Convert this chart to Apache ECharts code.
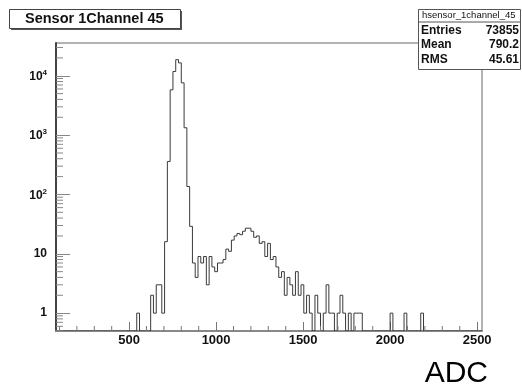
<!DOCTYPE html>
<html>
<head>
<meta charset="utf-8">
<script src="https://cdn.jsdelivr.net/npm/echarts@6/dist/echarts.min.js"></script>
<style>
html, body { margin: 0; padding: 0; background: #ffffff; }
#chart { width: 522px; height: 385px; }
</style>
</head>
<body>
<div id="chart"></div>
<script>
// Histogram binning: 16-ADC-count bins starting at 80
const binStart = 80;
const binWidth = 16;

// Counts per bin (bin i covers [80 + 16*i, 96 + 16*i)), 16 bins per row
const counts = [
  0, 0, 0, 0, 0, 0, 0, 0, 0, 0, 0, 0, 0, 0, 0, 0,
  0, 0, 0, 0, 0, 0, 0, 0, 0, 0, 0, 0, 0, 1, 0, 0,
  0, 0, 2, 1, 3, 3, 1, 16, 360, 5800, 11800, 18700, 16500, 7600, 1330, 136,
  29, 7, 4, 9, 7, 9, 3, 9, 6, 5, 7, 7, 8, 12, 11, 17,
  20, 22, 21, 24, 27, 27, 24, 19, 20, 15, 16, 9, 15, 8, 9, 6,
  4, 5, 2, 4, 3, 2, 5, 2, 3, 1, 2, 1, 0, 2, 1, 0,
  1, 3, 1, 1, 0, 1, 2, 1, 0, 1, 0, 1, 1, 1, 0, 0,
  0, 0, 0, 0, 0, 0, 0, 0, 1, 0, 0, 0, 0, 1, 0, 0,
  0, 0, 0, 1, 0, 0, 0, 0, 0, 0, 0, 0, 0, 0, 0, 0,
  0, 0, 0, 0, 0, 0, 0, 0, 0
];

// Axis ranges
const xMin = 80;
const xMax = 2528;
const yMin = 0.5;
const yMax = 35700;

// Minor tick positions
const xMinorTicks = [100, 200, 300, 400, 600, 700, 800, 900, 1100, 1200, 1300, 1400,
  1600, 1700, 1800, 1900, 2100, 2200, 2300, 2400];
const yMinorTicks = [0.5, 0.6, 0.7, 0.8, 0.9,
  2, 3, 4, 5, 6, 7, 8, 9,
  20, 30, 40, 50, 60, 70, 80, 90,
  200, 300, 400, 500, 600, 700, 800, 900,
  2000, 3000, 4000, 5000, 6000, 7000, 8000, 9000,
  20000, 30000];

// Statistics box contents
const statsTitle = 'hsensor_1channel_45';
const statsNames = ['Entries', 'Mean', 'RMS'];
const statsValues = ['73855', '790.2', '45.61'];

const chartTitle = 'Sensor 1Channel 45';
const xTitle = 'ADC';

const lineColor = '#3a3a3a';
const fontStack = '"Liberation Sans", Arial, sans-serif';
const floorOf = v => (v > 0 ? v : yMin);

const histData = counts.map((c, i) => [binStart + i * binWidth, c, i > 0 ? counts[i - 1] : 0]);

const chart = echarts.init(document.getElementById('chart'), null, { renderer: 'canvas' });

const superDigits = {
  b: { fontFamily: fontStack, fontWeight: 'bold', fontSize: 12, color: '#111', verticalAlign: 'bottom' },
  s: { fontFamily: fontStack, fontWeight: 'bold', fontSize: 8, color: '#111', verticalAlign: 'top', padding: [0, 0, 6, 0] }
};

const statRowCentres = [31.5, 46, 60.5];
const statRows = [];
statsNames.forEach((name, i) => {
  const y = statRowCentres[i];
  statRows.push({ type: 'text', left: 421, top: y - 7, style: { text: name, font: 'bold 12px ' + fontStack, fill: '#111' } });
  statRows.push({ type: 'text', right: 3, top: y - 7, style: { text: statsValues[i], font: 'bold 12px ' + fontStack, fill: '#111', align: 'right' } });
});

chart.setOption({
  animation: false,
  backgroundColor: '#ffffff',
  grid: { left: 56, top: 43, right: 40, bottom: 54, show: true, borderColor: '#666', borderWidth: 1, backgroundColor: 'transparent' },
  xAxis: {
    type: 'value', min: xMin, max: xMax,
    axisLine: { show: true, lineStyle: { color: '#888', width: 2 } },
    axisTick: { show: true, inside: true, length: 9, lineStyle: { color: '#777', width: 1 } },
    axisLabel: {
      showMinLabel: false, showMaxLabel: false, margin: 3,
      formatter: v => String(v),
      color: '#111', fontFamily: fontStack, fontWeight: 'bold', fontSize: 13
    },
    splitLine: { show: false }
  },
  yAxis: {
    type: 'log', logBase: 10, min: yMin, max: yMax,
    axisLine: { show: true, lineStyle: { color: '#444', width: 2 } },
    axisTick: { show: true, inside: true, length: 14, lineStyle: { color: '#888', width: 1 } },
    axisLabel: {
      showMinLabel: false, showMaxLabel: false, margin: 9,
      formatter: v => {
        const n = Math.round(Math.log10(v));
        if (n === 0) return '{b|1}';
        if (n === 1) return '{b|10}';
        return '{b|10}{s|' + n + '}';
      },
      rich: superDigits
    },
    splitLine: { show: false }
  },
  graphic: [
    { type: 'rect', left: 11, top: 11, shape: { width: 171, height: 19 }, style: { fill: '#555' } },
    { type: 'rect', left: 9, top: 9, shape: { width: 171, height: 19 }, style: { fill: '#fff', stroke: '#444', lineWidth: 1 } },
    { type: 'text', left: 25, top: 11, style: { text: chartTitle, font: 'bold 14.5px ' + fontStack, fill: '#111' } },
    { type: 'rect', left: 418, top: 9, shape: { width: 102, height: 60 }, style: { fill: '#fff', stroke: '#555', lineWidth: 1 } },
    { type: 'line', shape: { x1: 418, y1: 22, x2: 520, y2: 22 }, style: { stroke: '#555', lineWidth: 1 } },
    { type: 'text', left: 422, top: 10, style: { text: statsTitle, font: '9.5px ' + fontStack, fill: '#111' } },
    ...statRows,
    { type: 'text', right: 34, top: 359, style: { text: xTitle, font: '30px ' + fontStack, fill: '#000', align: 'right' } }
  ],
  series: [
    {
      name: 'hist', type: 'custom', coordinateSystem: 'cartesian2d', clip: true,
      encode: { x: 0, y: 1 },
      data: histData,
      renderItem: (params, api) => {
        const lo = api.value(0);
        const v = floorOf(api.value(1));
        const prev = floorOf(api.value(2));
        const a = api.coord([lo, prev]);
        const b = api.coord([lo, v]);
        const c = api.coord([lo + binWidth, v]);
        return { type: 'polyline', shape: { points: [a, b, c] }, style: { stroke: lineColor, lineWidth: 1, fill: null } };
      }
    },
    {
      name: 'xminor', type: 'custom', coordinateSystem: 'cartesian2d', silent: true,
      data: xMinorTicks.map(t => [t, yMin]),
      renderItem: (params, api) => {
        const p = api.coord([api.value(0), yMin]);
        return { type: 'line', shape: { x1: p[0], y1: p[1], x2: p[0], y2: p[1] - 5 }, style: { stroke: '#777', lineWidth: 1 } };
      }
    },
    {
      name: 'yminor', type: 'custom', coordinateSystem: 'cartesian2d', silent: true,
      data: yMinorTicks.map(t => [xMin, t]),
      renderItem: (params, api) => {
        const p = api.coord([xMin, api.value(1)]);
        return { type: 'line', shape: { x1: p[0], y1: p[1], x2: p[0] + 7, y2: p[1] }, style: { stroke: '#888', lineWidth: 1 } };
      }
    }
  ]
});
</script>
</body>
</html>
